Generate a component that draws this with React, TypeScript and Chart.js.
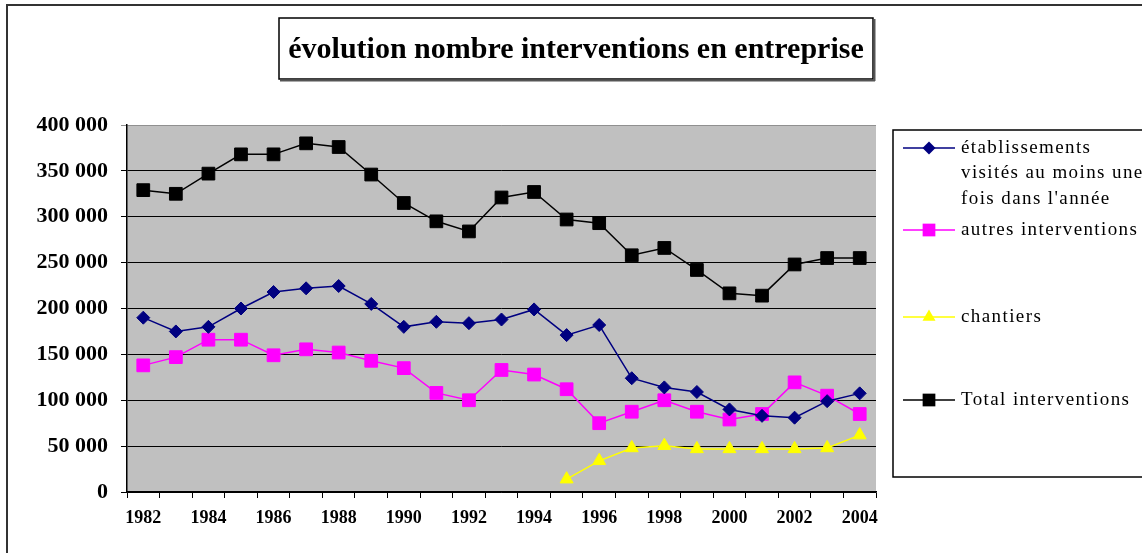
import React, { useEffect, useRef } from "react";
import { Chart, registerables } from "chart.js";

Chart.register(...registerables);

const years = [
  "1982", "1983", "1984", "1985", "1986", "1987", "1988", "1989", "1990", "1991", "1992", "1993",
  "1994", "1995", "1996", "1997", "1998", "1999", "2000", "2001", "2002", "2003", "2004",
];

const etablissements = [
  190000, 175000, 180000, 200000, 218000, 222000, 224500, 205000, 180000, 185500, 184000, 188000,
  199000, 171000, 182000, 124000, 114000, 109000, 90000, 83000, 81000, 99000, 107500,
];

const autres = [
  138000, 147000, 166000, 166000, 149000, 155500, 152000, 143000, 135000, 108000, 100000, 133000,
  128000, 112000, 75000, 87500, 100000, 87500, 79000, 85000, 119500, 105000, 85000,
];

const chantiers: (number | null)[] = [
  null, null, null, null, null, null, null, null, null, null, null, null,
  null, 14000, 34000, 48000, 50500, 47000, 47000, 47000, 47000, 48000, 62000,
];

const total = [
  329000, 325000, 347000, 368000, 368000, 380000, 376000, 346000, 315000, 295000, 284000, 321000,
  327000, 297000, 293000, 258000, 266000, 242000, 216500, 214000, 248000, 255000, 255000,
];

const titleText = "évolution nombre interventions en entreprise";
const legendLabels = [
  ["établissements", "visités au moins une", "fois dans l'année"],
  ["autres interventions"],
  ["chantiers"],
  ["Total interventions"],
];

const SERIF = "'Liberation Serif', 'Times New Roman', serif";

function fmt(v: number) {
  return String(v).replace(/\B(?=(\d{3})+(?!\d))/g, " ");
}

function drawMarker(ctx: CanvasRenderingContext2D, style: string, x: number, y: number, r: number, color: string) {
  ctx.save();
  ctx.fillStyle = color;
  ctx.beginPath();
  if (style === "rect") {
    const s = Math.SQRT1_2 * r;
    ctx.rect(x - s, y - s, 2 * s, 2 * s);
  } else if (style === "rectRot") {
    ctx.moveTo(x - r, y);
    ctx.lineTo(x, y - r);
    ctx.lineTo(x + r, y);
    ctx.lineTo(x, y + r);
    ctx.closePath();
  } else if (style === "triangle") {
    let rad = 0;
    ctx.moveTo(x + Math.sin(rad) * r, y - Math.cos(rad) * r);
    rad += (2 * Math.PI) / 3;
    ctx.lineTo(x + Math.sin(rad) * r, y - Math.cos(rad) * r);
    rad += (2 * Math.PI) / 3;
    ctx.lineTo(x + Math.sin(rad) * r, y - Math.cos(rad) * r);
    ctx.closePath();
  }
  ctx.fill();
  ctx.restore();
}

const decorPlugin = {
  id: "decor",
  beforeDraw(chart: any) {
    const { ctx, chartArea, width, height } = chart;
    ctx.save();
    ctx.fillStyle = "#ffffff";
    ctx.fillRect(0, 0, width, height);
    ctx.fillStyle = "#c0c0c0";
    ctx.fillRect(chartArea.left, chartArea.top, chartArea.right - chartArea.left, chartArea.bottom - chartArea.top);
    ctx.restore();
  },
  afterDraw(chart: any) {
    const ctx: CanvasRenderingContext2D = chart.ctx;
    ctx.save();
    // outer border
    ctx.strokeStyle = "#333333";
    ctx.lineWidth = 2;
    ctx.strokeRect(7, 5, 1300, 700);

    // title box
    ctx.strokeStyle = "#000000";
    ctx.lineWidth = 1.5;
    ctx.strokeRect(279, 18, 594, 61);
    ctx.fillStyle = "#555555";
    ctx.fillRect(280, 79.5, 595, 2);
    ctx.fillRect(873.5, 19, 2, 62);
    ctx.fillStyle = "#000000";
    ctx.font = `bold 30px ${SERIF}`;
    ctx.textAlign = "center";
    ctx.textBaseline = "middle";
    ctx.fillText(titleText, 576, 50);

    // legend box
    ctx.lineWidth = 1.5;
    ctx.strokeStyle = "#000000";
    ctx.strokeRect(893, 130, 400, 347);

    const ys = [148, 230, 317, 400];
    const datasets = chart.data.datasets;
    ctx.font = `19px ${SERIF}`;
    (ctx as any).letterSpacing = "1.4px";
    ctx.textAlign = "left";
    ctx.textBaseline = "middle";
    datasets.forEach((ds: any, i: number) => {
      const y = ys[i];
      ctx.strokeStyle = ds.borderColor;
      ctx.lineWidth = 1.5;
      ctx.beginPath();
      ctx.moveTo(903, y);
      ctx.lineTo(955, y);
      ctx.stroke();
      drawMarker(ctx, ds.pointStyle, 929, y, ds.pointRadius, ds.backgroundColor);
      ctx.fillStyle = "#000000";
      legendLabels[i].forEach((line, j) => {
        ctx.fillText(line, 961, y + j * 25.5);
      });
    });
    (ctx as any).letterSpacing = "0px";
    ctx.restore();
  },
};

export default function App() {
  const canvasRef = useRef<HTMLCanvasElement | null>(null);

  useEffect(() => {
    document.body.style.margin = "0";
    const canvas = canvasRef.current;
    if (!canvas) return;
    const chart = new Chart(canvas, {
      type: "line",
      data: {
        labels: years,
        datasets: [
          {
            label: legendLabels[0].join(" "),
            data: etablissements,
            borderColor: "#000080",
            backgroundColor: "#000080",
            pointStyle: "rectRot",
            pointRadius: 6.5,
            pointBorderWidth: 1,
            borderWidth: 1.5,
            tension: 0,
          },
          {
            label: legendLabels[1].join(" "),
            data: autres,
            borderColor: "#ff00ff",
            backgroundColor: "#ff00ff",
            pointStyle: "rect",
            pointRadius: 9,
            pointBorderWidth: 1,
            borderWidth: 1.5,
            tension: 0,
          },
          {
            label: legendLabels[2].join(" "),
            data: chantiers,
            borderColor: "#ffff00",
            backgroundColor: "#ffff00",
            pointStyle: "triangle",
            pointRadius: 7.5,
            pointBorderWidth: 1,
            borderWidth: 1.5,
            tension: 0,
            spanGaps: false,
          },
          {
            label: legendLabels[3].join(" "),
            data: total,
            borderColor: "#000000",
            backgroundColor: "#000000",
            pointStyle: "rect",
            pointRadius: 9,
            pointBorderWidth: 1,
            borderWidth: 1.5,
            tension: 0,
          },
        ],
      },
      options: {
        animation: false,
        responsive: false,
        maintainAspectRatio: false,
        layout: { padding: { top: 125, right: 266, bottom: 0, left: 0 } },
        plugins: {
          legend: { display: false },
          title: { display: false },
          tooltip: { enabled: false },
        },
        scales: {
          x: {
            type: "category",
            offset: true,
            afterFit: (scale: any) => {
              scale.height = 61;
            },
            grid: {
              offset: true,
              drawOnChartArea: false,
              drawTicks: true,
              tickLength: 6,
              color: "#000000",
              lineWidth: 1,
            },
            border: { display: true, color: "#000000", width: 1.5 },
            ticks: {
              autoSkip: false,
              maxRotation: 0,
              padding: 10,
              color: "#000000",
              font: { family: SERIF, size: 18, weight: "bold" },
              callback: (_v: any, idx: number) => (idx % 2 === 0 ? years[idx] : ""),
            },
          },
          y: {
            min: 0,
            max: 400000,
            afterFit: (scale: any) => {
              scale.width = 127;
            },
            grid: {
              color: (c: any) => (c.tick && c.tick.value === 400000 ? "#909090" : "#000000"),
              lineWidth: 1,
              tickLength: 6,
              drawTicks: true,
            },
            border: { display: true, color: "#000000", width: 1.5 },
            ticks: {
              stepSize: 50000,
              padding: 13,
              color: "#000000",
              font: { family: SERIF, size: 22, weight: "bold" },
              callback: (v: any) => fmt(Number(v)),
            },
          },
        },
      },
      plugins: [decorPlugin],
    });
    return () => chart.destroy();
  }, []);

  return (
    <div style={{ position: "relative", width: 1142, height: 553 }}>
      <canvas ref={canvasRef} width={1142} height={553} style={{ display: "block", width: 1142, height: 553 }} />
    </div>
  );
}
